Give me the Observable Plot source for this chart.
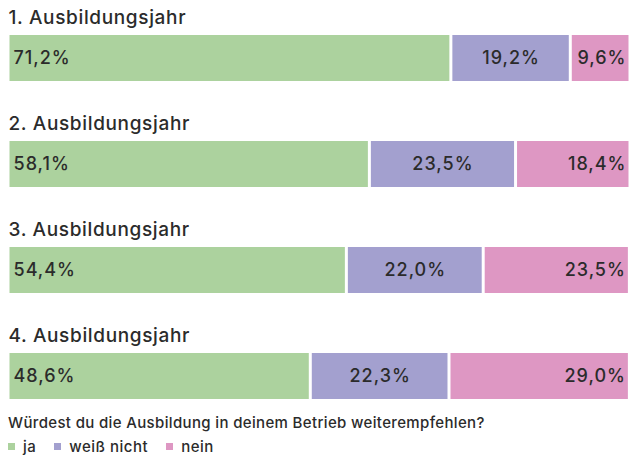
<!DOCTYPE html>
<html>
<head>
<meta charset="utf-8">
<script src="https://cdn.jsdelivr.net/npm/d3@7"></script>
<script src="https://cdn.jsdelivr.net/npm/@observablehq/plot@0.6"></script>
<style>
  body { margin: 0; background: #fff; font-family: Inter, sans-serif; color: #2b2b2b; }
  #chart svg { display: block; }
  #chart svg g[font-size="19"] text { letter-spacing: 0.65px; }
  #chart svg g[font-size="18"] text { letter-spacing: 1px; }
  .caption { margin: 14px 0 0 8px; font-size: 15px; line-height: 18px; color: #2b2b2b; font-weight: 500; letter-spacing: 0.35px; }
  .lg-swatch { letter-spacing: 0.5px; margin-right: 18px !important; }
  .lg-swatch > svg { margin-right: 8px !important; }
</style>
</head>
<body>
<div id="chart"></div>
<script>
const years = ["1. Ausbildungsjahr", "2. Ausbildungsjahr", "3. Ausbildungsjahr", "4. Ausbildungsjahr"];
const answers = ["ja", "weiß nicht", "nein"];
const ja = [71.2, 58.1, 54.4, 48.6];
const weissNicht = [19.2, 23.5, 22.0, 22.3];
const nein = [9.6, 18.4, 23.5, 29.0];
const colors = ["#acd29e", "#a3a0cf", "#de97c3"];
const captionText = "Würdest du die Ausbildung in deinem Betrieb weiterempfehlen?";

const series = [ja, weissNicht, nein];
const rows = [];
years.forEach((year, i) => {
  let start = 0;
  answers.forEach((answer, j) => {
    const value = series[j][i];
    rows.push({year, answer, value, start, end: start + value, idx: j});
    start += value;
  });
});
const fmt = v => v.toFixed(1).replace(".", ",") + "%";
const textColor = "#2b2b2b";
const font = "Inter, sans-serif";

const chart = Plot.plot({
  width: 630,
  height: 400,
  marginLeft: 8,
  marginRight: 0,
  marginTop: 35,
  marginBottom: 1,
  style: {fontFamily: font, background: "#fff"},
  x: {domain: [0, 100], axis: null},
  y: {domain: years, axis: null, paddingInner: 0.566, paddingOuter: 0, round: false},
  color: {domain: answers, range: colors},
  marks: [
    Plot.barX(rows, {x1: "start", x2: "end", y: "year", fill: "answer", insetLeft: 1.5, insetRight: 1.5}),
    Plot.text(years, {x: 0, y: d => d, text: d => d, textAnchor: "start", dy: -41, fontSize: 19, fontWeight: 500, fill: textColor}),
    Plot.text(rows.filter(d => d.idx === 0), {x: "start", y: "year", text: d => fmt(d.value), textAnchor: "start", dx: 5, fontSize: 18, fontWeight: 500, fill: textColor}),
    Plot.text(rows.filter(d => d.idx === 1), {x: d => (d.start + d.end) / 2, y: "year", text: d => fmt(d.value), textAnchor: "middle", fontSize: 18, fontWeight: 500, fill: textColor}),
    Plot.text(rows.filter(d => d.idx === 2), {x: "end", y: "year", text: d => fmt(d.value), textAnchor: "end", dx: -4, fontSize: 18, fontWeight: 500, fill: textColor})
  ]
});
document.getElementById("chart").appendChild(chart);

const cap = document.createElement("div");
cap.className = "caption";
cap.textContent = captionText;
document.getElementById("chart").appendChild(cap);

const legend = Plot.legend({
  color: {domain: answers, range: colors},
  legend: "swatches",
  swatchSize: 7,
  className: "lg",
  style: {fontFamily: font, fontSize: "15px", fontWeight: 500, color: textColor, marginLeft: "8px", marginTop: "-2px"}
});
document.getElementById("chart").appendChild(legend);
</script>
</body>
</html>
